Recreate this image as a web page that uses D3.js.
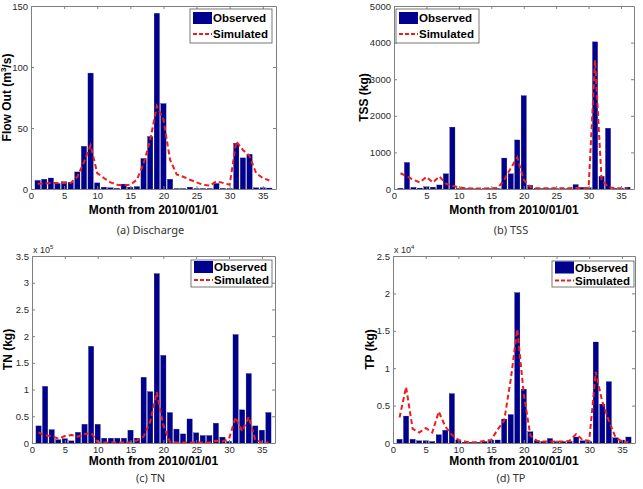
<!DOCTYPE html>
<html>
<head>
<meta charset="utf-8">
<script src="https://cdn.jsdelivr.net/npm/d3@7"></script>
<style>
  body { margin: 0; background: #fff; }
  svg { display: block; }
</style>
</head>
<body>
<svg id="chart"></svg>
<script>
// month index 1..36 from 2010/01/01
const months = [1,2,3,4,5,6,7,8,9,10,11,12,13,14,15,16,17,18,19,20,21,22,23,24,25,26,27,28,29,30,31,32,33,34,35,36];
const xTicks = [0, 5, 10, 15, 20, 25, 30, 35];

// (a) discharge, m3/s
const dischargeObs = [7,8,9,4.5,6,5.5,14,35,95,5,1.5,1,0.5,4,1.5,2,25,43,144,70,8,0.3,0.3,1.5,0.3,0.3,0.3,4.5,0.5,0.3,37.5,25.5,28.5,1,1,0.8];
const dischargeSim = [4.4,4.5,5,5,5,5,10,22,36,13,9,5.4,3.5,3,3.5,7.6,21,40,68,57,24,12,10,7.6,5.4,3.5,2.7,6.3,5,3.5,39,32,27,13,9,7];
const dischargeTicks = [0, 50, 100, 150];

// (b) TSS, kg
const tssObs = [20,725,45,25,60,50,110,415,1690,15,8,8,8,8,10,10,845,415,1340,2550,100,20,10,10,10,10,10,120,45,35,4020,345,1660,15,20,50];
const tssSim = [430,345,250,180,330,180,345,145,90,45,20,15,15,15,20,30,250,570,860,250,55,20,20,20,20,20,20,30,30,30,3520,250,60,20,20,20];
const tssTicks = [0, 1000, 2000, 3000, 4000, 5000];

// (c) TN, x 10^5 kg
const tnObs = [0.32,1.06,0.25,0.06,0.08,0.04,0.2,0.35,1.81,0.35,0.09,0.09,0.09,0.09,0.24,0.09,1.23,0.96,3.17,1.64,0.57,0.26,0.17,0.45,0.19,0.14,0.14,0.37,0.11,0.03,2.03,0.62,1.3,0.32,0.24,0.57];
const tnSim = [0.2,0.14,0.13,0.08,0.13,0.15,0.12,0.17,0.19,0.02,0.01,0.01,0.01,0.01,0.01,0.05,0.12,0.4,0.95,0.33,0.02,0.01,0.01,0.01,0.01,0.01,0.01,0.04,0.03,0.08,0.48,0.22,0.49,0.06,0.01,0.01];
const tnTicks = [0, 0.5, 1, 1.5, 2, 2.5, 3, 3.5];

// (d) TP, x 10^4 kg
const tpObs = [0.05,0.36,0.05,0.03,0.03,0.02,0.11,0.17,0.66,0.04,0.01,0.01,0.01,0.02,0.04,0.04,0.32,0.38,2.01,0.72,0.15,0.03,0.02,0.06,0.02,0.02,0.02,0.08,0.03,0.02,1.35,0.52,0.82,0.07,0.04,0.08];
const tpSim = [0.34,0.75,0.19,0.14,0.2,0.14,0.42,0.22,0.11,0.04,0.02,0.01,0.01,0.03,0.04,0.18,0.3,0.85,1.52,0.65,0.1,0.03,0.02,0.02,0.02,0.02,0.03,0.12,0.04,0.03,0.95,0.55,0.3,0.08,0.02,0.01];
const tpTicks = [0, 0.5, 1, 1.5, 2, 2.5];

const width = 643, height = 489;
const svg = d3.select("#chart").attr("width", width).attr("height", height);

const panels = [
  {obs: dischargeObs, sim: dischargeSim, ticks: dischargeTicks, ymax: 150,
   l: 31, r: 276, t: 6, b: 189, ylab: "flow", ylabX: 7, xlabY: 214, capY: 234, caption: "(a) Discharge",
   legend: {x: 190, y: 9, w: 82, h: 34, row: 16}},
  {obs: tssObs, sim: tssSim, ticks: tssTicks, ymax: 5000,
   l: 394, r: 634, t: 6, b: 189, ylab: "TSS (kg)", ylabX: 364, xlabY: 214, capY: 234, caption: "(b) TSS",
   legend: {x: 396, y: 9, w: 83, h: 34, row: 16}},
  {obs: tnObs, sim: tnSim, ticks: tnTicks, ymax: 3.5, expo: "5",
   l: 32, r: 275, t: 256, b: 443, ylab: "TN (kg)", ylabX: 8, xlabY: 465, capY: 482, caption: "(c) TN",
   legend: {x: 191, y: 260, w: 81, h: 27, row: 13}},
  {obs: tpObs, sim: tpSim, ticks: tpTicks, ymax: 2.5, expo: "4",
   l: 393, r: 635, t: 256, b: 443, ylab: "TP (kg)", ylabX: 370, xlabY: 465, capY: 482, caption: "(d) TP",
   legend: {x: 552, y: 261, w: 82, h: 26, row: 13}}
];

const barColor = "#00008f";
const lineColor = "#ee1c1c";

panels.forEach(p => {
  const x = d3.scaleLinear().domain([0, 37]).range([p.l, p.r]);
  const y = d3.scaleLinear().domain([0, p.ymax]).range([p.b, p.t]);
  const g = svg.append("g");

  // bars
  g.selectAll("rect.bar")
    .data(p.obs)
    .enter().append("rect")
    .attr("class", "bar")
    .attr("x", (d, i) => x(months[i] - 0.4))
    .attr("width", x(0.8) - x(0))
    .attr("y", d => y(d))
    .attr("height", d => y(0) - y(d))
    .attr("fill", barColor)
    .attr("stroke", "#1a1a6a")
    .attr("stroke-width", 0.3);

  // simulated line
  const line = d3.line()
    .x((d, i) => x(months[i]))
    .y(d => y(d));
  g.append("path")
    .datum(p.sim)
    .attr("d", line)
    .attr("fill", "none")
    .attr("stroke", lineColor)
    .attr("stroke-width", 2)
    .attr("stroke-dasharray", "5,3");

  // axes, ticks pointing inward like matlab
  const styleAxis = sel => {
    sel.select(".domain").attr("stroke", "#808080");
    sel.selectAll(".tick line").attr("stroke", "#808080");
    sel.selectAll("text").attr("fill", "#2a2a2a")
      .style("font", "9.5px 'Liberation Sans', Arial, sans-serif");
  };
  g.append("g").attr("transform", `translate(0,${p.b})`)
    .call(d3.axisBottom(x).tickValues(xTicks).tickSizeInner(-3).tickSizeOuter(0).tickPadding(3))
    .call(styleAxis);
  g.append("g").attr("transform", `translate(0,${p.t})`)
    .call(d3.axisTop(x).tickValues(xTicks).tickSizeInner(-3).tickSizeOuter(0).tickFormat(""))
    .call(styleAxis);
  g.append("g").attr("transform", `translate(${p.l},0)`)
    .call(d3.axisLeft(y).tickValues(p.ticks).tickSizeInner(-3).tickSizeOuter(0).tickPadding(3).tickFormat(d3.format("")))
    .call(styleAxis);
  g.append("g").attr("transform", `translate(${p.r},0)`)
    .call(d3.axisRight(y).tickValues(p.ticks).tickSizeInner(-3).tickSizeOuter(0).tickFormat(""))
    .call(styleAxis);

  // exponent label
  if (p.expo) {
    const e = g.append("text")
      .attr("x", p.l + 1).attr("y", p.t - 3)
      .attr("fill", "#2a2a2a")
      .style("font", "9px 'Liberation Sans', Arial, sans-serif")
      .text("x 10");
    e.append("tspan").attr("dy", -4).style("font-size", "6px").text(p.expo);
  }

  // axis titles
  const bold = "bold 12px 'Liberation Sans', Arial, sans-serif";
  g.append("text")
    .attr("x", (p.l + p.r) / 2).attr("y", p.xlabY)
    .attr("text-anchor", "middle")
    .style("font", bold)
    .text("Month from 2010/01/01");

  const yl = g.append("text")
    .attr("transform", `translate(${p.ylabX},${(p.t + p.b) / 2}) rotate(-90)`)
    .attr("text-anchor", "middle")
    .attr("dy", "0.35em")
    .style("font", bold);
  if (p.ylab === "flow") {
    yl.append("tspan").text("Flow Out (m");
    yl.append("tspan").attr("dy", -5).style("font-size", "8px").text("3");
    yl.append("tspan").attr("dy", 5).text("/s)");
  } else {
    yl.text(p.ylab);
  }

  // caption
  g.append("text")
    .attr("x", (p.l + p.r) / 2 - 3).attr("y", p.capY)
    .attr("text-anchor", "middle")
    .attr("fill", "#333")
    .style("font", "11px 'Noto Sans', sans-serif")
    .text(p.caption);

  // legend
  const L = p.legend;
  const lg = g.append("g").attr("transform", `translate(${L.x},${L.y})`);
  lg.append("rect").attr("width", L.w).attr("height", L.h)
    .attr("fill", "#fff").attr("stroke", "#555").attr("stroke-width", 0.8);
  const r1 = L.h / 2 - L.row / 2, r2 = L.h / 2 + L.row / 2;
  lg.append("rect").attr("x", 3).attr("y", r1 - 6).attr("width", 19).attr("height", 12)
    .attr("fill", barColor);
  lg.append("line").attr("x1", 3).attr("x2", 22).attr("y1", r2).attr("y2", r2)
    .attr("stroke", lineColor).attr("stroke-width", 2).attr("stroke-dasharray", "4,2");
  lg.append("text").attr("x", 23).attr("y", r1 + 4)
    .style("font", "bold 11.5px 'Liberation Sans', Arial, sans-serif").text("Observed");
  lg.append("text").attr("x", 23).attr("y", r2 + 4)
    .style("font", "bold 11.5px 'Liberation Sans', Arial, sans-serif").text("Simulated");
});
</script>
</body>
</html>
